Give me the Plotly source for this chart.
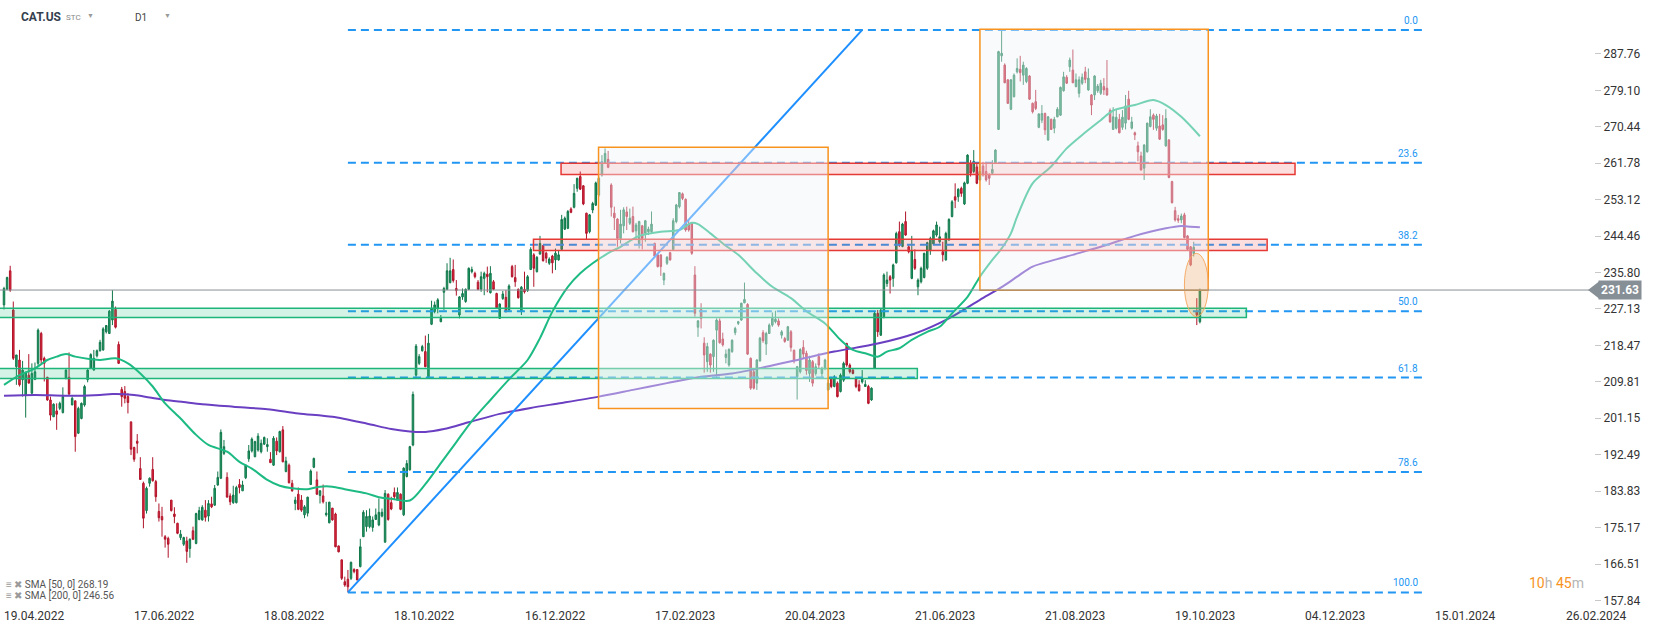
import plotly.graph_objects as go

# ---------------- data ----------------
open_ = [228.1,231.8,236.2,226.9,213.4,215.0,210.3,206.7,211.4,207.1,
 210.4,214.2,221.3,215.4,210.9,205.5,201.5,202.9,203.5,202.5,
 210.6,210.9,204.3,205.3,197.6,201.1,204.3,210.3,213.0,212.6,
 216.0,217.2,217.4,221.7,221.3,224.5,227.0,218.7,208.0,207.5,
 206.3,200.3,194.2,195.7,189.2,185.7,179.2,185.7,189.0,186.1,
 179.0,177.8,173.0,172.6,181.7,178.4,176.2,172.8,171.2,172.0,
 170.2,174.4,171.4,177.1,177.0,179.3,177.9,180.8,180.5,185.3,
 186.9,192.8,187.1,182.7,181.1,181.1,185.4,183.9,187.0,191.5,
 193.4,192.0,193.6,193.2,195.0,194.4,191.4,190.0,195.7,193.2,
 198.4,188.5,190.0,185.7,180.9,183.1,181.7,178.2,178.6,185.4,
 189.5,186.5,182.8,182.7,178.2,176.3,179.8,178.4,170.8,167.5,
 162.3,162.9,163.1,165.2,165.2,165.9,173.0,175.4,175.4,175.2,
 177.1,175.8,177.9,171.7,183.1,181.1,183.5,181.7,183.1,178.2,
 187.3,188.9,194.8,211.4,214.2,217.2,217.0,211.0,223.5,226.5,
 227.3,224.1,231.1,231.8,233.4,236.5,232.0,225.7,230.0,228.9,
 231.8,236.0,235.6,233.5,231.8,234.4,235.4,231.0,233.6,230.8,
 224.9,229.6,229.9,226.9,237.2,234.6,231.8,226.5,231.8,231.5,
 236.5,240.0,236.0,240.2,242.2,240.4,238.0,239.7,238.8,238.8,
 241.3,246.1,246.3,250.9,251.3,255.8,258.6,256.4,249.9,245.5,
 250.65,251.8,254.2,259.0,261.75,262.7,256.6,249.9,248.5,243.9,
 246.9,250.2,247.5,249.1,245.7,242.7,246.9,245.1,245.5,245.5,
 242.7,240.0,240.0,234.0,238.0,240.5,241.3,247.9,251.45,254.5,
 253.2,247.3,247.5,235.2,222.8,227.0,219.0,214.6,216.4,215.8,
 222.1,224.3,220.0,215.6,213.8,217.0,221.5,223.7,224.5,228.6,
 228.2,215.4,212.2,209.5,214.8,221.5,218.8,221.3,223.3,224.1,
 224.3,220.9,220.1,219.7,221.7,217.3,211.0,212.2,218.0,216.6,
 211.8,214.6,211.8,215.8,211.8,213.0,207.9,210.6,208.7,209.5,
 207.5,210.2,218.9,213.8,212.6,210.6,209.1,209.8,208.7,208.7,
 205.5,213.0,226.1,220.9,225.3,233.2,234.8,234.4,238.1,245.5,
 242.0,247.9,241.9,234.4,238.9,232.4,233.6,234.6,236.8,241.1,
 242.6,244.7,243.1,240.75,238.8,243.5,249.1,253.8,253.8,255.8,
 252.1,257.0,261.75,259.8,260.9,257.8,261.1,259.8,259.0,259.4,
 261.75,269.8,287.3,285.1,281.6,274.6,277.6,283.5,284.1,282.7,
 281.2,282.5,276.0,276.4,270.3,272.0,273.6,267.3,272.2,270.1,
 272.8,273.2,279.0,282.2,284.7,283.9,280.0,278.4,280.8,283.5,
 279.2,278.0,278.0,279.0,278.4,280.0,279.6,274.3,269.8,270.1,
 272.2,270.3,271.3,277.0,270.1,269.0,265.9,263.5,260.6,264.5,
 270.5,273.2,270.1,270.6,270.9,265.9,267.3,257.4,250.5,248.6,
 248.3,249.5,244.5,241.9,240.3,226.5,224.1]
high = [232.4,234.8,237.4,228.9,216.2,217.4,214.8,212.1,216.4,214.2,
 214.4,222.5,221.7,215.8,211.0,206.3,204.7,204.7,205.1,208.5,
 212.8,216.8,206.3,205.3,203.9,204.9,209.1,212.8,216.6,217.4,
 217.5,219.8,222.8,223.3,226.9,231.6,227.7,219.4,208.6,208.8,
 207.1,200.3,194.4,197.4,191.9,186.1,184.9,187.1,191.9,186.5,
 180.9,180.1,173.4,173.0,181.7,180.0,176.3,174.6,173.0,173.0,
 172.6,175.4,178.7,180.1,180.5,181.7,181.7,182.5,185.3,188.5,
 198.5,196.0,188.3,183.3,185.1,185.1,186.7,186.3,190.2,194.8,
 196.6,195.8,197.6,196.1,196.8,196.4,193.1,196.9,196.6,198.2,
 199.3,192.0,190.4,186.5,182.5,184.7,182.9,180.5,182.5,189.0,
 191.8,188.5,184.1,185.4,181.3,181.3,179.8,178.7,170.9,167.5,
 163.5,165.1,167.1,165.5,165.3,172.5,179.3,179.3,179.7,177.8,
 179.7,182.1,179.7,184.1,183.3,182.5,184.7,184.7,183.3,189.5,
 191.2,194.6,207.5,218.8,216.4,218.6,220.8,221.2,229.1,228.9,
 229.7,225.7,232.4,238.0,239.3,238.9,234.0,230.2,232.0,232.0,
 237.0,237.2,236.0,234.0,236.0,236.0,237.2,237.3,234.0,231.0,
 228.5,231.4,231.6,233.0,237.6,237.6,232.0,232.6,236.0,235.2,
 241.8,240.4,239.7,244.5,242.3,240.75,239.4,240.0,241.5,241.1,
 249.5,249.1,250.65,251.3,256.8,258.3,259.8,256.6,250.0,249.7,
 252.6,257.4,258.6,263.7,265.3,264.7,257.0,251.45,248.7,250.7,
 251.3,251.45,251.0,251.45,247.6,248.1,247.1,248.3,246.7,250.3,
 242.9,240.2,240.0,235.8,239.7,240.7,248.7,252.1,254.9,254.8,
 253.4,248.3,247.6,237.3,224.5,228.5,220.4,219.1,216.6,219.9,
 224.9,224.9,221.5,217.5,217.8,219.9,222.9,224.3,228.6,233.4,
 228.5,215.6,213.0,215.2,220.5,222.1,221.7,223.7,226.3,226.7,
 224.9,222.1,220.5,223.1,222.1,217.5,213.6,217.8,219.7,217.2,
 216.0,215.0,214.2,216.6,213.4,215.3,210.3,211.0,211.4,209.9,
 211.8,214.6,219.1,214.2,213.0,211.0,210.2,212.6,210.2,209.1,
 208.5,226.5,226.9,227.3,235.6,236.0,235.2,237.9,245.5,247.9,
 247.6,250.3,242.3,244.5,241.3,234.4,237.2,240.5,243.1,244.3,
 246.0,247.9,246.7,243.1,245.5,248.7,253.0,257.0,255.8,256.2,
 257.4,263.9,262.5,264.9,261.6,261.75,262.1,262.1,259.4,262.5,
 265.1,288.5,293.45,285.5,281.7,281.7,283.1,286.7,287.3,285.9,
 284.6,282.7,276.2,279.2,273.6,275.6,273.8,273.0,272.4,272.8,
 275.1,280.0,283.5,282.7,286.9,288.8,283.1,282.4,283.1,284.7,
 284.3,278.2,282.7,280.6,281.6,282.0,286.3,274.8,275.1,274.6,
 273.5,274.4,278.0,279.0,272.8,269.3,266.9,264.5,266.3,271.4,
 274.6,273.6,273.5,273.5,273.2,274.6,267.5,257.6,251.4,249.5,
 249.8,250.0,244.7,242.1,243.1,229.7,232.0]
low = [227.0,231.6,231.2,215.0,209.1,208.7,206.3,201.3,209.5,206.7,
 210.2,213.4,214.2,209.9,205.3,200.6,201.5,198.4,203.1,202.3,
 210.4,206.7,204.3,193.2,197.4,200.9,203.9,209.7,212.9,212.5,
 215.6,217.0,217.2,221.3,221.2,223.3,222.5,214.1,203.9,204.7,
 202.3,192.4,190.8,192.8,186.5,175.0,178.5,184.9,186.1,181.3,
 176.6,173.0,170.4,168.0,179.0,176.2,173.6,172.2,170.8,166.8,
 168.0,172.2,171.2,176.9,176.8,176.6,176.6,179.8,180.3,185.1,
 186.7,192.4,182.4,180.5,180.8,180.9,183.3,183.9,186.7,190.8,
 193.0,191.9,193.2,192.8,194.8,193.2,190.6,189.8,192.4,193.0,
 190.7,188.3,185.7,183.7,179.3,179.3,178.9,177.4,177.8,185.3,
 189.3,182.9,180.9,180.9,177.8,176.2,176.8,170.5,169.3,162.7,
 161.1,159.75,162.7,164.3,162.7,165.7,173.0,174.2,175.0,174.2,
 177.0,175.5,177.6,171.6,176.8,179.3,181.7,181.6,179.3,177.9,
 187.1,188.7,194.5,211.0,213.8,217.0,213.3,210.6,223.3,226.1,
 226.1,224.0,226.9,231.6,233.2,233.4,230.3,224.9,229.3,228.6,
 231.6,235.6,234.4,231.6,231.2,230.4,231.1,230.8,231.6,227.3,
 224.8,229.3,226.3,226.6,234.6,232.4,229.6,225.7,230.8,231.2,
 236.4,232.4,235.8,240.0,238.4,238.1,237.6,235.6,236.4,238.6,
 241.1,245.9,246.1,249.9,251.05,255.0,255.4,251.8,243.7,245.1,
 249.9,251.6,253.8,258.6,261.6,260.6,249.1,245.9,241.9,242.7,
 245.1,245.9,247.1,245.3,243.5,241.5,241.3,243.1,244.7,245.1,
 239.6,237.0,235.0,232.8,237.6,238.6,241.1,247.5,251.05,253.0,
 245.5,245.5,240.0,225.3,220.5,222.5,212.0,212.2,212.0,212.2,
 211.0,218.9,218.2,214.2,213.4,216.7,220.9,223.3,224.3,228.5,
 216.2,207.9,208.0,207.9,214.6,219.1,216.2,221.2,222.9,223.7,
 222.9,220.1,219.1,219.6,217.0,214.2,205.6,211.8,215.4,211.5,
 209.8,208.7,211.3,212.9,210.6,212.6,207.7,208.3,208.5,206.1,
 207.3,209.8,213.4,211.8,211.6,208.3,207.5,209.4,208.7,204.5,
 205.3,213.0,220.5,220.7,224.9,232.4,230.8,232.4,237.9,241.9,
 241.8,244.5,240.35,234.2,236.4,230.4,233.2,234.4,236.4,240.0,
 242.3,244.3,242.7,238.4,238.6,243.4,248.9,251.1,252.6,253.8,
 251.85,256.8,258.6,259.4,256.8,257.6,258.6,257.4,256.6,259.0,
 261.6,269.7,285.9,280.8,275.9,274.4,277.4,283.1,281.2,280.4,
 280.8,276.8,273.6,274.4,270.1,271.3,268.5,267.1,269.7,268.9,
 272.7,273.0,278.8,280.6,283.5,280.8,279.8,277.4,280.4,280.8,
 279.0,273.2,276.8,278.5,278.0,278.0,277.8,271.4,269.7,269.8,
 268.9,269.7,269.8,272.0,269.8,267.3,262.2,260.0,257.8,264.3,
 270.3,269.7,269.5,267.3,269.5,265.7,258.2,252.2,247.9,247.6,
 247.5,243.9,241.1,237.3,239.6,223.3,223.7]
close = [232.0,234.6,231.6,215.4,216.2,209.1,212.6,212.1,209.5,211.8,
 212.2,222.1,215.0,214.2,205.5,201.9,204.5,202.1,204.7,206.3,
 212.6,206.9,205.9,196.8,203.5,204.7,208.7,212.6,216.3,215.4,
 217.2,219.2,222.4,223.2,226.6,229.0,222.8,214.2,206.3,205.9,
 204.9,193.8,191.4,195.2,186.6,177.4,184.5,186.9,186.3,182.5,
 177.5,177.0,172.4,171.2,179.2,177.8,173.8,173.6,172.8,169.5,
 172.4,172.4,178.5,179.2,180.0,177.6,180.9,180.1,184.5,187.1,
 197.8,194.4,182.4,181.3,182.9,184.7,184.7,185.3,190.0,193.4,
 196.2,195.6,196.9,195.2,196.6,194.9,190.6,196.4,193.4,198.0,
 190.8,191.0,185.8,183.9,181.7,179.5,179.3,180.1,182.4,188.6,
 191.6,183.1,183.9,181.3,178.6,181.2,177.0,170.6,169.4,163.1,
 161.5,161.1,166.9,164.7,162.7,170.6,178.8,177.8,177.9,177.0,
 178.2,178.8,178.8,183.3,177.1,179.6,182.5,183.5,179.5,189.3,
 190.4,194.4,206.8,218.3,215.8,218.2,213.4,219.0,227.3,228.1,
 229.3,224.9,232.0,236.2,236.2,233.9,231.5,230.0,230.8,231.8,
 236.8,236.5,234.8,231.8,234.8,235.6,234.8,235.6,231.8,227.4,
 228.3,230.7,226.5,232.6,234.8,233.6,229.8,232.3,231.2,234.8,
 241.3,236.8,239.4,242.7,238.6,239.2,239.0,238.1,240.4,240.0,
 248.4,248.7,250.3,250.1,254.6,258.2,255.6,252.1,245.1,249.5,
 252.2,257.1,258.2,262.1,264.1,260.8,251.3,248.8,243.9,247.3,
 250.7,249.1,248.7,245.5,247.1,247.9,243.9,248.1,246.1,247.3,
 239.7,237.2,237.2,235.6,239.4,238.8,248.1,251.85,254.8,253.4,
 245.9,245.9,240.35,226.1,224.3,224.9,216.2,218.2,213.8,219.7,
 224.5,219.1,218.6,216.4,217.5,219.7,222.5,224.1,228.5,229.4,
 216.4,208.3,208.3,215.0,220.2,219.6,221.3,223.3,224.9,224.7,
 223.3,221.7,219.4,222.9,218.0,214.8,213.4,217.5,216.4,212.5,
 215.0,209.5,213.4,213.8,213.0,215.0,209.5,208.7,211.0,206.3,
 211.4,214.2,213.8,212.2,211.8,208.7,207.7,210.6,209.2,204.7,
 208.3,226.1,221.7,226.9,235.2,234.0,234.0,237.6,245.1,242.3,
 247.3,244.7,240.75,241.0,236.8,234.0,236.8,240.35,242.9,243.9,
 245.7,247.1,244.3,240.0,245.1,248.4,252.6,253.0,255.6,254.6,
 257.1,263.7,259.4,262.2,257.0,259.8,259.0,257.8,258.2,260.3,
 264.9,288.3,287.9,280.9,276.0,281.6,282.7,284.3,283.3,285.1,
 284.3,277.0,274.0,274.8,273.5,273.6,269.7,272.8,269.8,272.2,
 274.6,279.8,282.3,280.8,286.3,280.9,281.6,281.6,282.2,281.7,
 282.0,275.6,282.5,280.1,280.8,279.2,278.0,271.6,272.8,272.7,
 269.0,272.7,275.4,272.2,271.6,268.5,264.5,260.2,266.1,271.3,
 272.8,272.2,273.0,267.5,269.8,272.4,258.4,252.4,248.3,248.2,
 249.2,244.1,241.3,237.6,241.8,225.7,231.63]
bar_index = list(range(len(close)))

sma50_x = [0,5,10,14,17,20,23,28,31,36,40,44,48,52,57,62,66,72,76,80,85,89,93,98,102,
           106,110,117,121,125,131,136,141,146,151,157,163,169,173,177,182,186,190,196,199,
           205,212,218,222,224,228,232,237,243,248,254,259,265,270,274,278,282,285,289,293,
           298,302,306,311,315,319,322,325,327,332,338,343,348,354,358,365,371,375,380,386]
sma50_y = [209.1,211.4,213.0,215.0,215.8,216.4,215.8,215.2,215.0,215.4,214.2,211.8,208.7,204.7,
           201.1,197.2,194.8,193.2,190.8,189.2,186.5,185.1,184.5,184.3,184.9,184.9,184.3,183.3,
           182.4,182.0,181.6,185.5,190.5,195.5,200.5,205.5,210.4,215.0,220.2,226.5,232.4,235.6,
           238.0,240.8,241.9,244.5,245.5,245.9,247.6,247.3,245.1,242.7,240.0,235.6,232.4,229.7,
           226.6,223.7,219.8,217.4,216.6,215.8,217.0,217.8,219.8,221.7,222.9,226.1,230.0,234.8,
           238.8,241.5,245.1,249.1,257.0,261.0,265.3,268.5,272.0,274.3,275.6,276.8,275.6,272.8,
           268.19]
sma200_x = [0,10,20,31,35,42,47,52,58,64,74,85,95,106,117,125,131,136,142,150,160,170,180,192,
            203,214,225,235,246,257,268,282,294,305,315,322,327,332,343,354,365,375,380,383,386]
sma200_y = [206.5,206.7,206.5,206.7,206.9,206.7,206.1,205.5,205.0,204.5,203.9,203.3,202.3,201.5,
            199.9,198.6,198.0,197.9,198.6,200.2,202.2,203.6,204.8,206.3,207.9,209.5,211.0,211.8,
            213.4,215.2,217.0,218.9,221.3,224.9,229.3,232.3,234.8,237.2,239.6,241.9,244.5,246.3,
            246.85,246.7,246.56]

y_ticks = [157.84,166.51,175.17,183.83,192.49,201.15,209.81,218.47,227.13,235.80,
           244.46,253.12,261.78,270.44,279.10,287.76]
x_tick_pos = [0,42,84,126,168,210,252,294,336,378,420,462,504]
x_tick_text = ["19.04.2022","17.06.2022","18.08.2022","18.10.2022","16.12.2022","17.02.2023",
               "20.04.2023","21.06.2023","21.08.2023","19.10.2023","04.12.2023","15.01.2024",
               "26.02.2024"]

fib_high, fib_low = 293.45, 159.75
fib_ratios = [0.0, 0.236, 0.382, 0.5, 0.618, 0.786, 1.0]
fib_text = ["0.0", "23.6", "38.2", "50.0", "61.8", "78.6", "100.0"]
fib_x_start, fib_x_end = 111, 459
trend_x = [111, 277]
trend_y = [159.75, 293.45]

# zones: x0, x1, y0, y1
green_zones = [(-2, 401, 225.1, 227.3), (-2, 294.8, 210.6, 213.0)]
red_zones = [(179.8, 416.7, 259.1, 261.75), (170.9, 407.7, 241.0, 243.7)]
range_boxes = [(191.9, 266.0, 203.5, 265.55), (315.0, 388.7, 231.6, 293.6)]
ellipse = (381.0, 388.7, 225.3, 240.35)
last_price = 231.63
sma_legend = ["SMA [50, 0] 268.19", "SMA [200, 0] 246.56"]

# ---------------- figure ----------------
X_RANGE = [-1.29, 513.2]
Y_RANGE = [157.48, 300.57]
PLOT_W, PLOT_H = 1594, 602
FONT = "Roboto, Arial, sans-serif"

fig = go.Figure()

fig.add_trace(go.Scatter(x=sma200_x, y=sma200_y, mode="lines",
                         line=dict(color="#6a3fc2", width=2, shape="spline", smoothing=0.8),
                         hoverinfo="skip"))
fig.add_trace(go.Scatter(x=sma50_x, y=sma50_y, mode="lines",
                         line=dict(color="#1dbb83", width=2, shape="spline", smoothing=0.8),
                         hoverinfo="skip"))
fig.add_trace(go.Candlestick(
    x=bar_index, open=open_, high=high, low=low, close=close,
    increasing=dict(fillcolor="#23a06b", line=dict(color="#12774b", width=1)),
    decreasing=dict(fillcolor="#e2283e", line=dict(color="#b0142a", width=1)),
    whiskerwidth=0, hoverinfo="skip"))
fig.add_trace(go.Scatter(x=trend_x, y=trend_y, mode="lines",
                         line=dict(color="#1e8fff", width=2), hoverinfo="skip"))

shapes = []
for r, t in zip(fib_ratios, fib_text):
    lvl = fib_high - r * (fib_high - fib_low)
    shapes.append(dict(type="line", xref="x", yref="y", x0=fib_x_start, x1=fib_x_end,
                       y0=lvl, y1=lvl, layer="above",
                       line=dict(color="#2196f3", width=2, dash="8px,5px")))
for x0, x1, y0, y1 in green_zones:
    shapes.append(dict(type="rect", xref="x", yref="y", x0=x0, x1=x1, y0=y0, y1=y1,
                       layer="above", fillcolor="rgba(40,196,132,0.20)",
                       line=dict(color="#1db57a", width=1.5)))
for x0, x1, y0, y1 in red_zones:
    shapes.append(dict(type="rect", xref="x", yref="y", x0=x0, x1=x1, y0=y0, y1=y1,
                       layer="above", fillcolor="rgba(240,90,90,0.20)",
                       line=dict(color="#e53935", width=1.5)))
for x0, x1, y0, y1 in range_boxes:
    shapes.append(dict(type="rect", xref="x", yref="y", x0=x0, x1=x1, y0=y0, y1=y1,
                       layer="above", fillcolor="rgba(240,243,248,0.42)",
                       line=dict(color="#f7931e", width=1.5)))
ex0, ex1, ey0, ey1 = ellipse
shapes.append(dict(type="circle", xref="x", yref="y", x0=ex0, x1=ex1, y0=ey0, y1=ey1,
                   layer="above", fillcolor="rgba(247,160,80,0.25)",
                   line=dict(color="rgba(244,164,90,0.9)", width=1)))
shapes.append(dict(type="line", xref="paper", yref="y", x0=0, x1=1, y0=last_price,
                   y1=last_price, layer="above", line=dict(color="#8a9096", width=1)))
shapes.append(dict(type="path", xref="paper", xsizemode="pixel", xanchor=1,
                   yref="y", ysizemode="pixel", yanchor=last_price,
                   path="M -6,0 L 5,8.5 L 5,-8.5 Z", fillcolor="#868e96",
                   line=dict(width=0), layer="above"))

annotations = []
for pos, txt in zip(x_tick_pos, x_tick_text):
    annotations.append(dict(x=pos, y=0, xref="x", yref="paper", text=txt, showarrow=False,
                            xanchor="left", yanchor="middle", yshift=-14, xshift=-2,
                            font=dict(family=FONT, size=12, color="#333")))
for r, t in zip(fib_ratios, fib_text):
    lvl = fib_high - r * (fib_high - fib_low)
    annotations.append(dict(x=457, y=lvl, xref="x", yref="y", text=t, showarrow=False,
                            xanchor="right", yanchor="bottom", yshift=2,
                            font=dict(family=FONT, size=10, color="#2196f3")))
annotations.append(dict(x=1, y=last_price, xref="paper", yref="y",
                        text="<b>%.2f</b>" % last_price, showarrow=False,
                        xanchor="left", yanchor="middle", xshift=4,
                        bgcolor="#868e96", borderpad=2,
                        font=dict(family=FONT, size=12, color="white")))
# header
annotations += [
    dict(x=19 / PLOT_W, y=1 - 17 / PLOT_H, xref="paper", yref="paper", text="<b>CAT.US</b>",
         showarrow=False, xanchor="left", yanchor="middle",
         font=dict(family=FONT, size=12, color="#34404f")),
    dict(x=64 / PLOT_W, y=1 - 17 / PLOT_H, xref="paper", yref="paper", text="STC",
         showarrow=False, xanchor="left", yanchor="middle",
         font=dict(family=FONT, size=8, color="#888")),
    dict(x=85 / PLOT_W, y=1 - 16 / PLOT_H, xref="paper", yref="paper", text="▼",
         showarrow=False, xanchor="left", yanchor="middle",
         font=dict(family=FONT, size=7, color="#999")),
    dict(x=133 / PLOT_W, y=1 - 17 / PLOT_H, xref="paper", yref="paper", text="D1",
         showarrow=False, xanchor="left", yanchor="middle",
         font=dict(family=FONT, size=10, color="#444")),
    dict(x=162 / PLOT_W, y=1 - 16 / PLOT_H, xref="paper", yref="paper", text="▼",
         showarrow=False, xanchor="left", yanchor="middle",
         font=dict(family=FONT, size=7, color="#999")),
]
# SMA legend (bottom-left)
for k, txt in enumerate(sma_legend):
    yy = 1 - (584 + 11 * k) / PLOT_H
    annotations.append(dict(x=4 / PLOT_W, y=yy, xref="paper", yref="paper",
                            text="<span style='color:#9a9a9a'>≡ ✖</span> " + txt,
                            showarrow=False, xanchor="left", yanchor="middle",
                            font=dict(family=FONT, size=10, color="#555")))
# countdown
annotations.append(dict(x=1527 / PLOT_W, y=1 - 583 / PLOT_H, xref="paper", yref="paper",
                        text="<span style='color:#f7931e'>10</span><span style='color:#b5b5b5'>h </span>"
                             "<span style='color:#f7931e'>45</span><span style='color:#b5b5b5'>m</span>",
                        showarrow=False, xanchor="left", yanchor="middle",
                        font=dict(family=FONT, size=14)))

fig.update_layout(
    width=1653, height=630,
    margin=dict(l=0, r=59, t=0, b=28),
    paper_bgcolor="white", plot_bgcolor="white",
    showlegend=False,
    font=dict(family=FONT, size=12, color="#333"),
    shapes=shapes, annotations=annotations,
    xaxis=dict(range=X_RANGE, showgrid=False, zeroline=False, showticklabels=False,
               ticks="", showline=False, rangeslider=dict(visible=False), fixedrange=True),
    yaxis=dict(range=Y_RANGE, side="right", tickvals=y_ticks,
               ticktext=["%.2f" % v for v in y_ticks], ticks="outside", ticklen=6,
               tickcolor="#c8c8c8", showgrid=False, zeroline=False, showline=False,
               tickfont=dict(family=FONT, size=12, color="#333"), fixedrange=True),
)

fig.write_html("out.html", config={"displayModeBar": False},
               post_script="document.body.style.margin='0';document.body.style.overflow='hidden';")
